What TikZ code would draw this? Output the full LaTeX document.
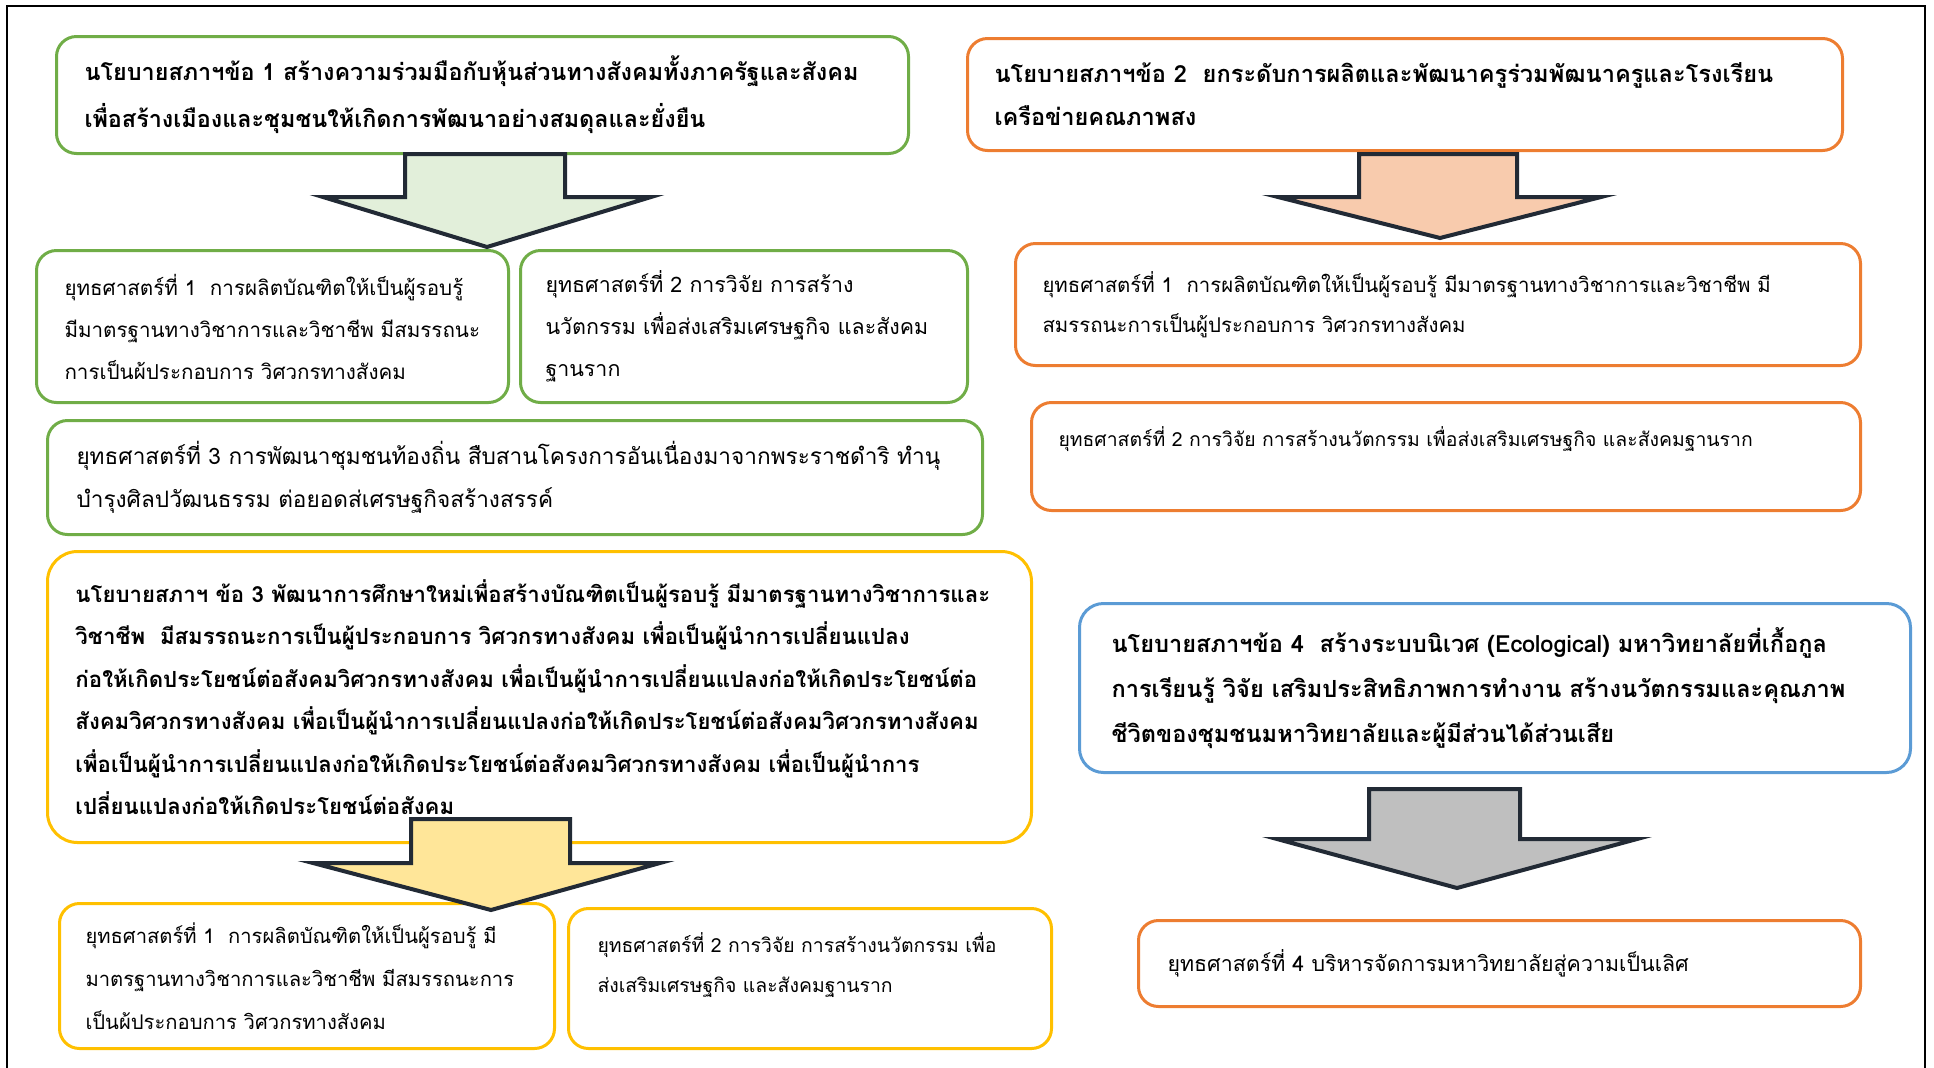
\documentclass[tikz,border=0pt]{standalone}
\usepackage{fontspec}
\setmainfont[Script=Thai]{Loma}
\definecolor{grnline}{HTML}{70AD47}
\definecolor{grnfill}{HTML}{E2EFDA}
\definecolor{orgline}{HTML}{ED7D31}
\definecolor{orgfill}{HTML}{F8CBAD}
\definecolor{ylwline}{HTML}{FFC000}
\definecolor{ylwfill}{HTML}{FFE699}
\definecolor{bluline}{HTML}{5B9BD5}
\definecolor{gryfill}{HTML}{BFBFBF}
\definecolor{arrline}{HTML}{222A35}
\begin{document}
\begin{tikzpicture}[x=0.5pt,y=-0.5pt,
    box/.style={draw,line width=1.5pt,rounded corners=10pt,fill=white,
      anchor=north west,align=left,inner ysep=0pt},
    pol/.style={font=\bfseries\fontsize{11.7}{23.5}\selectfont},
    strat/.style={font=\fontsize{10.3}{21}\selectfont},
    blockarrow/.style={draw=arrline,line width=2pt}]
    \useasboundingbox (0,0) rectangle (1934,1067);
    \draw[line width=1pt] (7,6) rectangle (1925,1080);

    % policy 1
    \node[box,pol,draw=grnline,inner xsep=14pt,text width=398pt,minimum height=58.5pt] (p1) at (55,35)
      {นโยบายสภาฯข้อ 1 สร้างความร่วมมือกับหุ้นส่วนทางสังคมทั้งภาครัฐและสังคม\\
       เพื่อสร้างเมืองและชุมชนให้เกิดการพัฒนาอย่างสมดุลและยั่งยืน};
    \node[box,strat,draw=grnline,inner xsep=12pt,text width=212pt,minimum height=76pt] (s1a) at (35,249)
      {\hspace*{2pt}ยุทธศาสตร์ที่ 1\ \ การผลิตบัณฑิตให้เป็นผู้รอบรู้\\
       \hspace*{2pt}มีมาตรฐานทางวิชาการและวิชาชีพ มีสมรรถนะ\\
       \hspace*{2pt}การเป็นผ้ประกอบการ วิศวกรทางสังคม};
    \node[box,strat,draw=grnline,inner xsep=12.5pt,text width=198.5pt,minimum height=76pt,
      font=\fontsize{10.7}{21}\selectfont] (s1b) at (519,249)
      {ยุทธศาสตร์ที่ 2 การวิจัย การสร้าง\\
       นวัตกรรม เพื่อส่งเสริมเศรษฐกิจ และสังคม\\
       ฐานราก};
    \node[box,strat,draw=grnline,inner xsep=14.5pt,text width=438.5pt,minimum height=57pt,
      font=\fontsize{11.3}{21.5}\selectfont] (s1c) at (46,419)
      {ยุทธศาสตร์ที่ 3 การพัฒนาชุมชนท้องถิ่น สืบสานโครงการอันเนื่องมาจากพระราชดำริ ทำนุ\\
       บำรุงศิลปวัฒนธรรม ต่อยอดส่เศรษฐกิจสร้างสรรค์};

    % policy 3
    \node[box,pol,draw=ylwline,rounded corners=15pt,inner xsep=14pt,text width=464pt,minimum height=145.5pt,
      font=\bfseries\fontsize{11.1}{21.25}\selectfont] (p3) at (46,550)
      {นโยบายสภาฯ ข้อ 3 พัฒนาการศึกษาใหม่เพื่อสร้างบัณฑิตเป็นผู้รอบรู้ มีมาตรฐานทางวิชาการและ\\
       วิชาชีพ\ \ มีสมรรถนะการเป็นผู้ประกอบการ วิศวกรทางสังคม เพื่อเป็นผู้นำการเปลี่ยนแปลง\\
       ก่อให้เกิดประโยชน์ต่อสังคมวิศวกรทางสังคม เพื่อเป็นผู้นำการเปลี่ยนแปลงก่อให้เกิดประโยชน์ต่อ\\
       สังคมวิศวกรทางสังคม เพื่อเป็นผู้นำการเปลี่ยนแปลงก่อให้เกิดประโยชน์ต่อสังคมวิศวกรทางสังคม\\
       เพื่อเป็นผู้นำการเปลี่ยนแปลงก่อให้เกิดประโยชน์ต่อสังคมวิศวกรทางสังคม เพื่อเป็นผู้นำการ\\
       เปลี่ยนแปลงก่อให้เกิดประโยชน์ต่อสังคม};
    \node[box,strat,draw=ylwline,inner xsep=12pt,text width=223.5pt,minimum height=72.5pt,
      font=\fontsize{10.1}{21.5}\selectfont] (s3a) at (58,902)
      {\hspace*{1pt}ยุทธศาสตร์ที่ 1\ \ การผลิตบัณฑิตให้เป็นผู้รอบรู้ มี\\
       \hspace*{1pt}มาตรฐานทางวิชาการและวิชาชีพ มีสมรรถนะการ\\
       \hspace*{1pt}เป็นผ้ประกอบการ วิศวกรทางสังคม};
    \node[box,strat,draw=ylwline,inner xsep=14.5pt,text width=212.5pt,minimum height=70pt,
      font=\fontsize{9.7}{19.75}\selectfont] (s3b) at (567,907)
      {ยุทธศาสตร์ที่ 2 การวิจัย การสร้างนวัตกรรม เพื่อ\\
       ส่งเสริมเศรษฐกิจ และสังคมฐานราก\\[-4pt]
       \mbox{}};

    % policy 2
    \node[box,pol,draw=orgline,inner xsep=13.5pt,text width=410.5pt,minimum height=56pt,
      font=\bfseries\fontsize{11.8}{21.5}\selectfont] (p2) at (966,37)
      {นโยบายสภาฯข้อ 2\ \ ยกระดับการผลิตและพัฒนาครูร่วมพัฒนาครูและโรงเรียน\\
       เครือข่ายคณภาพสง};
    \node[box,strat,draw=orgline,inner xsep=13.5pt,text width=395.5pt,minimum height=61pt,
      font=\fontsize{10.2}{20}\selectfont] (s2a) at (1014,242)
      {ยุทธศาสตร์ที่ 1\ \ การผลิตบัณฑิตให้เป็นผู้รอบรู้ มีมาตรฐานทางวิชาการและวิชาชีพ มี\\
       สมรรถนะการเป็นผู้ประกอบการ วิศวกรทางสังคม};
    \node[box,strat,draw=orgline,inner xsep=13.5pt,text width=387.5pt,minimum height=54pt,
      font=\fontsize{9.7}{20}\selectfont] (s2b) at (1030,401)
      {ยุทธศาสตร์ที่ 2 การวิจัย การสร้างนวัตกรรม เพื่อส่งเสริมเศรษฐกิจ และสังคมฐานราก\\
       \mbox{}};

    % policy 4
    \node[box,pol,draw=bluline,rounded corners=12pt,inner xsep=16pt,text width=383.5pt,minimum height=84.5pt,
      font=\bfseries\fontsize{11.8}{22.5}\selectfont] (p4) at (1078,602)
      {นโยบายสภาฯข้อ 4\ \ สร้างระบบนิเวศ (Ecological) มหาวิทยาลัยที่เกื้อกูล\\
       การเรียนรู้ วิจัย เสริมประสิทธิภาพการทำงาน สร้างนวัตกรรมและคุณภาพ\\
       ชีวิตของชุมชนมหาวิทยาลัยและผู้มีส่วนได้ส่วนเสีย};
    \node[box,strat,draw=orgline,inner xsep=14.5pt,text width=332pt,minimum height=43pt,
      font=\fontsize{10.7}{21}\selectfont] (s4) at (1137,919)
      {ยุทธศาสตร์ที่ 4 บริหารจัดการมหาวิทยาลัยสู่ความเป็นเลิศ};

    % block arrows
    \draw[blockarrow,fill=grnfill] (405,154) -- (565,154) -- (565,197) -- (651,197)
      -- (487,247) -- (323,197) -- (405,197) -- cycle;
    \draw[blockarrow,fill=orgfill] (1359,154) -- (1517,154) -- (1517,197) -- (1601,197)
      -- (1440,238) -- (1278,197) -- (1359,197) -- cycle;
    \draw[blockarrow,fill=ylwfill] (411,819) -- (570,819) -- (570,863) -- (660,863)
      -- (491,910) -- (313,863) -- (411,863) -- cycle;
    \draw[blockarrow,fill=gryfill] (1369,789) -- (1520,789) -- (1520,839) -- (1637,839)
      -- (1457,888) -- (1277,839) -- (1369,839) -- cycle;

\end{tikzpicture}
\end{document}
